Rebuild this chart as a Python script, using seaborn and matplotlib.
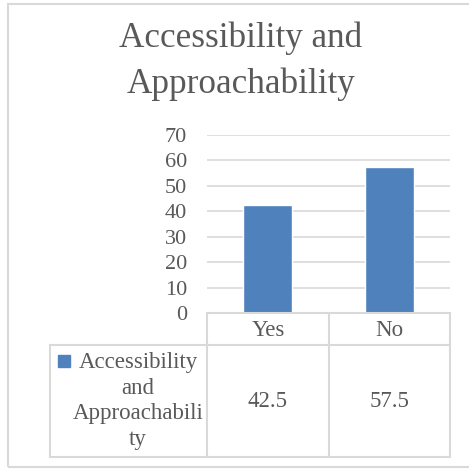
import numpy as np
import pandas as pd
import seaborn as sns
import matplotlib.pyplot as plt
from matplotlib.lines import Line2D
from matplotlib.patches import Rectangle

categories = ["Yes", "No"]
values = [42.5, 57.5]
series_label = "Accessibility\nand\nApproachabili\nty"
title_lines = ["Accessibility and", "Approachability"]
yticks = [0, 10, 20, 30, 40, 50, 60, 70]

W = H = 469
BAR = "#4F81BD"
TXT = "#595959"
GRID = "#D9D9D9"

sns.set_theme(style="white")
plt.rcParams["font.family"] = ["Liberation Serif", "DejaVu Serif"]


def fx(x):
    return x / W


def fy(y):
    return 1 - y / H


def hline(fig, x0, x1, y, **kw):
    fig.add_artist(Line2D([fx(x0), fx(x1)], [fy(y), fy(y)], transform=fig.transFigure, **kw))


def vline(fig, x, y0, y1, **kw):
    fig.add_artist(Line2D([fx(x), fx(x)], [fy(y0), fy(y1)], transform=fig.transFigure, **kw))


df = pd.DataFrame({"cat": categories, "val": values})

fig = plt.figure(figsize=(W / 100, H / 100), dpi=100)

# chart border
fig.add_artist(Rectangle((fx(8), fy(467)), fx(470) - fx(8), fy(4) - fy(467),
                         transform=fig.transFigure, fill=False, edgecolor=GRID, lw=1.5))

# plot area
left, right, top, bottom = 207, 450, 135, 313
ax = fig.add_axes([fx(left), fy(bottom), fx(right - left), fy(top) - fy(bottom)])
sns.barplot(data=df, x="cat", y="val", color=BAR, saturation=1, width=0.4, ax=ax)
ax.set_xlim(-0.5, 1.5)
ax.set_ylim(0, 70)
ax.set_yticks(yticks)
ax.set_yticklabels([str(t) for t in yticks], fontsize=16, color=TXT)
ax.tick_params(axis="y", length=0, pad=14.5)
ax.set_xticks([])
ax.set_xlabel("")
ax.set_ylabel("")
ax.yaxis.grid(True, color=GRID, lw=1.2)
ax.set_axisbelow(True)
for s in ax.spines.values():
    s.set_visible(False)

# title
for line, base in zip(title_lines, [47, 93]):
    fig.text(fx(241), fy(base), line, ha="center", va="baseline", fontsize=25.3, color=TXT)

# data table
cols = [207, 329, 450]
row1, row2, row3 = 313, 345, 457
lkw = dict(color=GRID, lw=1.5)
hline(fig, 207, 450, row1, **lkw)
hline(fig, 50, 450, row2, **lkw)
hline(fig, 50, 450, row3, **lkw)
vline(fig, 50, row2, row3, **lkw)
for c in cols:
    vline(fig, c, row1, row3, **lkw)

for i, (cat, v) in enumerate(zip(categories, values)):
    cx = (cols[i] + cols[i + 1]) / 2
    fig.text(fx(cx), fy((row1 + row2) / 2 + 1), cat, ha="center", va="center",
             fontsize=16.5, color=TXT)
    fig.text(fx(cx), fy((row2 + row3) / 2), f"{v:g}", ha="center", va="center",
             fontsize=16.5, color=TXT)

fig.add_artist(Rectangle((fx(58), fy(367)), fx(12), fy(355) - fy(367),
                         transform=fig.transFigure, color=BAR))
fig.text(fx(138), fy(401), series_label, ha="center", va="center",
         fontsize=16.5, color=TXT, linespacing=1.29)

fig.savefig("out.png", dpi=100)
